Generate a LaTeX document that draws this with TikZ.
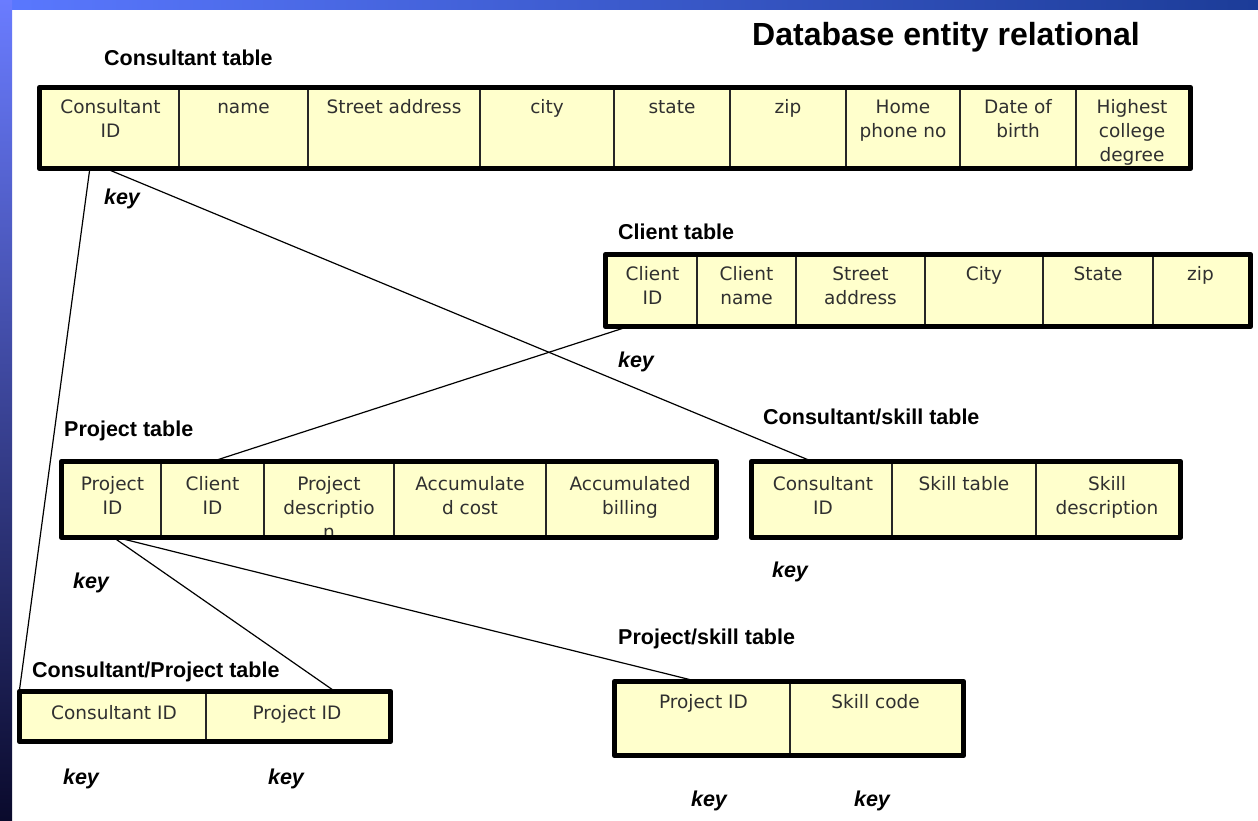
\documentclass[tikz,border=0pt]{standalone}
\usepackage{fontspec}
\usetikzlibrary{fit,calc}
\newfontfamily\cellfamily{DejaVu Sans}
\newfontfamily\headfamily{Liberation Sans}
\definecolor{cellfill}{HTML}{FFFFCC}
\definecolor{celltext}{HTML}{303030}
\definecolor{bandTL}{HTML}{5A78FF}
\definecolor{bandTM}{HTML}{44A4F4}
\definecolor{bandTR}{HTML}{1C3C98}
\definecolor{bandLT}{HTML}{6A7CFF}
\definecolor{bandLM}{HTML}{2A3CB0}
\definecolor{bandLB}{HTML}{0A0A2C}
% stacked, centred field text whose baseline is the first line
\newcommand\fieldlines[1]{\begin{tabular}[t]{@{}c@{}}#1\end{tabular}}
\tikzset{
  tblframe/.style={fill=cellfill, inner sep=0pt},
  tblborder/.style={draw=black, line width=5pt, line join=round},
  divider/.style={draw=black!85, line width=1.3pt},
  field/.style={anchor=base, inner sep=0pt, text=celltext,
    font=\cellfamily\fontsize{18.5}{24}\selectfont},
  caption/.style={anchor=base west, inner sep=0pt,
    font=\headfamily\bfseries\fontsize{21.5}{26}\selectfont},
  keylabel/.style={inner sep=0pt,
    font=\headfamily\bfseries\itshape\fontsize{21.5}{26}\selectfont},
  link/.style={draw=black, line width=1.2pt},
}
\begin{document}
\begin{tikzpicture}[x=1pt,y=-1pt]
\useasboundingbox (0,0) rectangle (1258,820);
% slide background
\fill[white] (0,0) rectangle (1258,820);
\shade[left color=bandTL, middle color=bandTM, right color=bandTR] (0,0) rectangle (1258,9);
\shade[top color=bandLT, middle color=bandLM, bottom color=bandLB] (0,0) rectangle (12,820);

% title and table captions
\node[anchor=base west, inner sep=0pt, font=\headfamily\bfseries\fontsize{32}{38}\selectfont]
  (title) at (752,45) {Database entity relational};
\node[caption] (capCons) at (104,65) {Consultant table};
\node[caption] (capClient) at (618,239) {Client table};
\node[caption] (capProj) at (64,436) {Project table};
\node[caption] (capCS) at (763,424) {Consultant/skill table};
\node[caption] (capCP) at (32,677) {Consultant/Project table};
\node[caption] (capPS) at (618,644) {Project/skill table};

% table bodies
\node[tblframe, fit={(39.5,87.5) (1190.5,168.5)}] (cons) {};
\node[tblframe, fit={(605.5,254.5) (1250.5,326.5)}] (client) {};
\node[tblframe, fit={(61.5,461.5) (716.5,537.5)}] (proj) {};
\node[tblframe, fit={(751.5,461.5) (1180.5,537.5)}] (cskill) {};
\node[tblframe, fit={(19.5,691.5) (390.5,741.5)}] (cproj) {};
\node[tblframe, fit={(614.5,681.5) (963.5,755.5)}] (pskill) {};

% key relations
\draw[link] ([xshift=50.5pt]cons.south west) -- (cproj.north west);
\draw[link] ([xshift=67pt]cons.south west) -- ([xshift=60.5pt]cskill.north west);
\draw[link] ([xshift=22.5pt]client.south west) -- ([xshift=151.5pt]proj.north west);
\draw[link] ([xshift=52.5pt]proj.south west) -- ([xshift=315.5pt]cproj.north west);
\draw[link] ([xshift=56.5pt]proj.south west) -- ([xshift=82.5pt]pskill.north west);

% Consultant table fields
\node[field] (f11) at (110.5,113) {\fieldlines{Consultant\\ID}};
\node[field] (f12) at (243.5,113) {\fieldlines{name}};
\node[field] (f13) at (394,113) {\fieldlines{Street address}};
\node[field] (f14) at (547,113) {\fieldlines{city}};
\node[field] (f15) at (672,113) {\fieldlines{state}};
\node[field] (f16) at (788,113) {\fieldlines{zip}};
\node[field] (f17) at (903,113) {\fieldlines{Home\\phone no}};
\node[field] (f18) at (1018,113) {\fieldlines{Date of\\birth}};
\node[field] (f19) at (1132,113) {\fieldlines{Highest\\college\\degree}};
\foreach \x in {179,308,480,614,730,846,960,1076}
  \draw[divider] (\x,0 |- cons.north) -- (\x,0 |- cons.south);

% Client table fields
\node[field] (f21) at (652.5,280) {\fieldlines{Client\\ID}};
\node[field] (f22) at (746.5,280) {\fieldlines{Client\\name}};
\node[field] (f23) at (860.5,280) {\fieldlines{Street\\address}};
\node[field] (f24) at (984,280) {\fieldlines{City}};
\node[field] (f25) at (1098,280) {\fieldlines{State}};
\node[field] (f26) at (1200.5,280) {\fieldlines{zip}};
\foreach \x in {697,796,925,1043,1153}
  \draw[divider] (\x,0 |- client.north) -- (\x,0 |- client.south);

% Project table fields (text cut off at the frame's inner edge)
\begin{scope}
  \clip (64,464) rectangle (714,535);
  \node[field] (f31) at (112.5,490) {\fieldlines{Project\\ID}};
  \node[field] (f32) at (212.5,490) {\fieldlines{Client\\ID}};
  \node[field] (f33) at (329,490) {\fieldlines{Project\\descriptio\\n}};
  \node[field] (f34) at (470,490) {\fieldlines{Accumulate\\d cost}};
  \node[field] (f35) at (630,490) {\fieldlines{Accumulated\\billing}};
\end{scope}
\foreach \x in {161,264,394,546}
  \draw[divider] (\x,0 |- proj.north) -- (\x,0 |- proj.south);

% Consultant/skill table fields
\node[field] (f41) at (823,490) {\fieldlines{Consultant\\ID}};
\node[field] (f42) at (964,490) {\fieldlines{Skill table}};
\node[field] (f43) at (1107,490) {\fieldlines{Skill\\description}};
\foreach \x in {892,1036}
  \draw[divider] (\x,0 |- cskill.north) -- (\x,0 |- cskill.south);

% Consultant/Project table fields
\node[field] (f51) at (114,719) {\fieldlines{Consultant ID}};
\node[field] (f52) at (297,719) {\fieldlines{Project ID}};
\draw[divider] (206,0 |- cproj.north) -- (206,0 |- cproj.south);

% Project/skill table fields
\node[field] (f61) at (703.5,708) {\fieldlines{Project ID}};
\node[field] (f62) at (875.5,708) {\fieldlines{Skill code}};
\draw[divider] (790,0 |- pskill.north) -- (790,0 |- pskill.south);

% bold table outlines
\foreach \t in {cons,client,proj,cskill,cproj,pskill}
  \draw[tblborder] (\t.north west) rectangle (\t.south east);

% key markers
\node[keylabel] (k1) at (122,199) {key};
\node[keylabel] (k2) at (636,362) {key};
\node[keylabel] (k3) at (91,583) {key};
\node[keylabel] (k4) at (790,572) {key};
\node[keylabel] (k5) at (81,779) {key};
\node[keylabel] (k6) at (286,779) {key};
\node[keylabel] (k7) at (709,801) {key};
\node[keylabel] (k8) at (872,801) {key};
\end{tikzpicture}
\end{document}
